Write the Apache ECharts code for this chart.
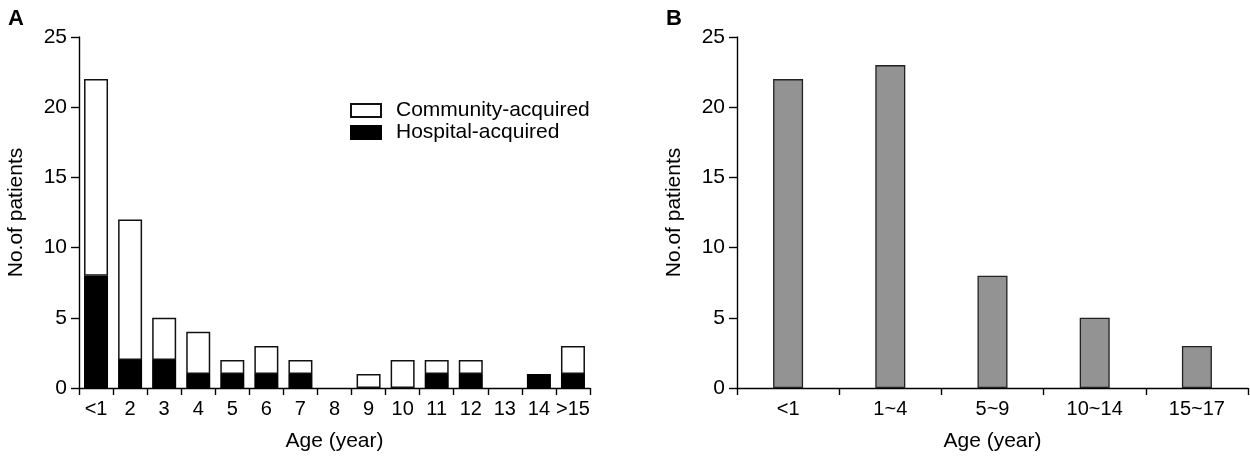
<!DOCTYPE html>
<html>
<head>
<meta charset="utf-8">
<script src="https://cdn.jsdelivr.net/npm/echarts@6/dist/echarts.min.js"></script>
<style>html,body{margin:0;padding:0;background:#fff}#c{width:1250px;height:460px}</style>
</head>
<body>
<div id="c"></div>
<script>
const catsA = ['<1','2','3','4','5','6','7','8','9','10','11','12','13','14','>15'];
const hospital = [8,2,2,1,1,1,1,0,0,0,1,1,0,1,1];
const community = [14,10,3,3,1,2,1,0,1,2,1,1,0,0,2];
const catsB = ['<1','1~4','5~9','10~14','15~17'];
const totalsB = [22,23,8,5,3];
const yTicks = [0,5,10,15,20,25];

const font = 'Liberation Sans, Arial, Helvetica, sans-serif';
const nz = arr => arr.map(v => v === 0 ? '-' : v);
const chart = echarts.init(document.getElementById('c'));
function xAx(idx, data){
  return {type:'category', gridIndex:idx, data:data,
    axisLine:{lineStyle:{color:'#000',width:1.4}},
    axisTick:{show:true,length:7,lineStyle:{color:'#000',width:1.4}},
    axisLabel:{color:'#000',fontSize:20,fontFamily:font,margin:11,interval:0},
    name:'Age (year)', nameLocation:'middle', nameGap:43,
    nameTextStyle:{color:'#000',fontSize:21,fontFamily:font}};
}
function yAx(idx){
  return {type:'value', gridIndex:idx, min:yTicks[0], max:yTicks[yTicks.length-1], interval:yTicks[1]-yTicks[0],
    axisLine:{show:true,lineStyle:{color:'#000',width:1.4}},
    axisTick:{show:true,length:8,lineStyle:{color:'#000',width:1.4}},
    splitLine:{show:false},
    axisLabel:{color:'#000',fontSize:21,fontFamily:font,margin:12},
    name:'No.of patients', nameLocation:'middle', nameGap:52,
    nameTextStyle:{color:'#000',fontSize:21,fontFamily:font}};
}
chart.setOption({
  animation:false,
  title:[
    {text:'A',left:3,top:3,textStyle:{fontSize:22,fontWeight:'bold',color:'#000',fontFamily:font}},
    {text:'B',left:661,top:3,textStyle:{fontSize:22,fontWeight:'bold',color:'#000',fontFamily:font}}
  ],
  legend:{orient:'vertical',left:345,top:95,itemWidth:30,itemHeight:13,itemGap:1,icon:'rect',
    data:['Community-acquired','Hospital-acquired'],
    textStyle:{color:'#000',fontSize:21,fontFamily:font,padding:[0,0,0,10]}},
  grid:[
    {left:79,top:37,width:511,height:351},
    {left:737,top:37,width:511,height:351}
  ],
  xAxis:[xAx(0,catsA), xAx(1,catsB)],
  yAxis:[yAx(0), yAx(1)],
  series:[
    {name:'Hospital-acquired',type:'bar',stack:'a',xAxisIndex:0,yAxisIndex:0,data:nz(hospital),barWidth:24,
      itemStyle:{color:'#000',borderColor:'#000',borderWidth:1.3}},
    {name:'Community-acquired',type:'bar',stack:'a',xAxisIndex:0,yAxisIndex:0,data:nz(community),barWidth:24,
      itemStyle:{color:'#fff',borderColor:'#111',borderWidth:1.5}},
    {name:'Total',type:'bar',xAxisIndex:1,yAxisIndex:1,data:totalsB,barWidth:30,
      itemStyle:{color:'#939393',borderColor:'#222',borderWidth:1.3}}
  ]
});
</script>
</body>
</html>
